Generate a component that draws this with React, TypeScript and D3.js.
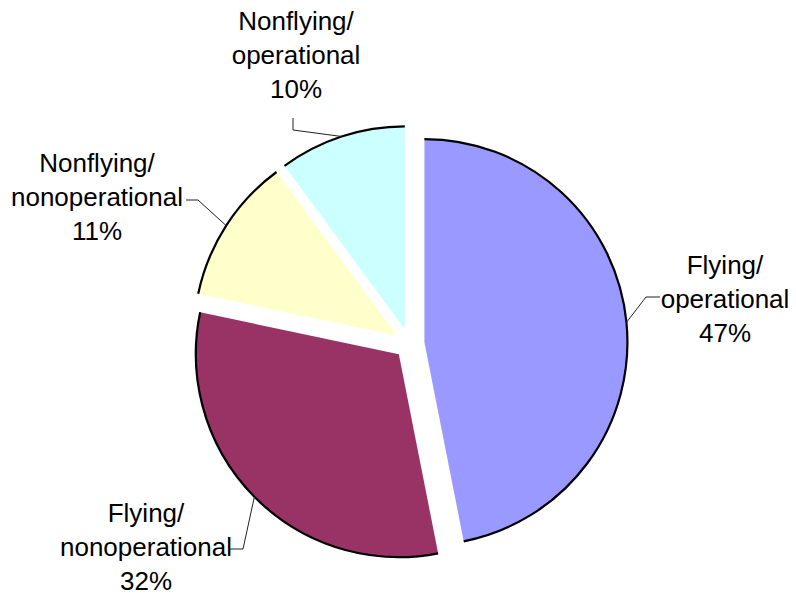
import React from "react";
import * as d3 from "d3";

const categories = ["Flying/operational", "Flying/nonoperational", "Nonflying/nonoperational", "Nonflying/operational"];
const labelLines = [
  ["Flying/", "operational"],
  ["Flying/", "nonoperational"],
  ["Nonflying/", "nonoperational"],
  ["Nonflying/", "operational"],
];
// slice shares
const values = [46.9, 31.4, 11.6, 10.1];
// percentage labels as printed on the chart
const pctLabels = ["47%", "32%", "11%", "10%"];
const colors = ["#9999FF", "#993366", "#FFFFCC", "#CCFFFF"];

const W = 796;
const H = 596;
const CX = 409.5;
const CY = 343.6;
const R = 203;
const EXPLODE = 15;
const FONT = 26;
const LINE_H = 34;

// label layout: center x, first-line center y, leader elbow & stub end
const labelLayout = [
  { x: 725, y: 265, elbow: [646, 297], stub: [660, 297] },
  { x: 146, y: 513, elbow: [243, 549], stub: [229, 549] },
  { x: 97, y: 163, elbow: [198, 200], stub: [186, 200] },
  { x: 296, y: 21, elbow: [293, 130], stub: [293, 118] },
];

export default function App() {
  const pie = d3.pie<number>().sort(null).value((d) => d)(values);
  const arc = d3.arc<d3.PieArcDatum<number>>().innerRadius(0).outerRadius(R);

  return (
    <svg
      width={W}
      height={H}
      style={{ position: "absolute", left: 0, top: 0, background: "#fff" }}
      fontFamily="'Liberation Sans', Arial, sans-serif"
    >
      {pie.map((p, i) => {
        const mid = (p.startAngle + p.endAngle) / 2;
        const ox = CX + EXPLODE * Math.sin(mid);
        const oy = CY - EXPLODE * Math.cos(mid);
        const ax = ox + R * Math.sin(mid);
        const ay = oy - R * Math.cos(mid);
        const L = labelLayout[i];
        const lines = [...labelLines[i], pctLabels[i]];
        return (
          <g key={categories[i]}>
            <g transform={`translate(${ox},${oy})`}>
              <path d={arc(p) || ""} fill={colors[i]} stroke="none" />
              <path
                d={
                  d3.arc()({
                    innerRadius: R,
                    outerRadius: R,
                    startAngle: p.startAngle,
                    endAngle: p.endAngle,
                  } as any) || ""
                }
                fill="none"
                stroke="#000"
                strokeWidth={2.2}
              />
            </g>
            <polyline
              points={`${L.stub[0]},${L.stub[1]} ${L.elbow[0]},${L.elbow[1]} ${ax},${ay}`}
              fill="none"
              stroke="#222"
              strokeWidth={1}
            />
            {lines.map((t, j) => (
              <text
                key={j}
                x={L.x}
                y={L.y + j * LINE_H}
                textAnchor="middle"
                dominantBaseline="central"
                fontSize={FONT}
                fill="#000"
              >
                {t}
              </text>
            ))}
          </g>
        );
      })}
    </svg>
  );
}
